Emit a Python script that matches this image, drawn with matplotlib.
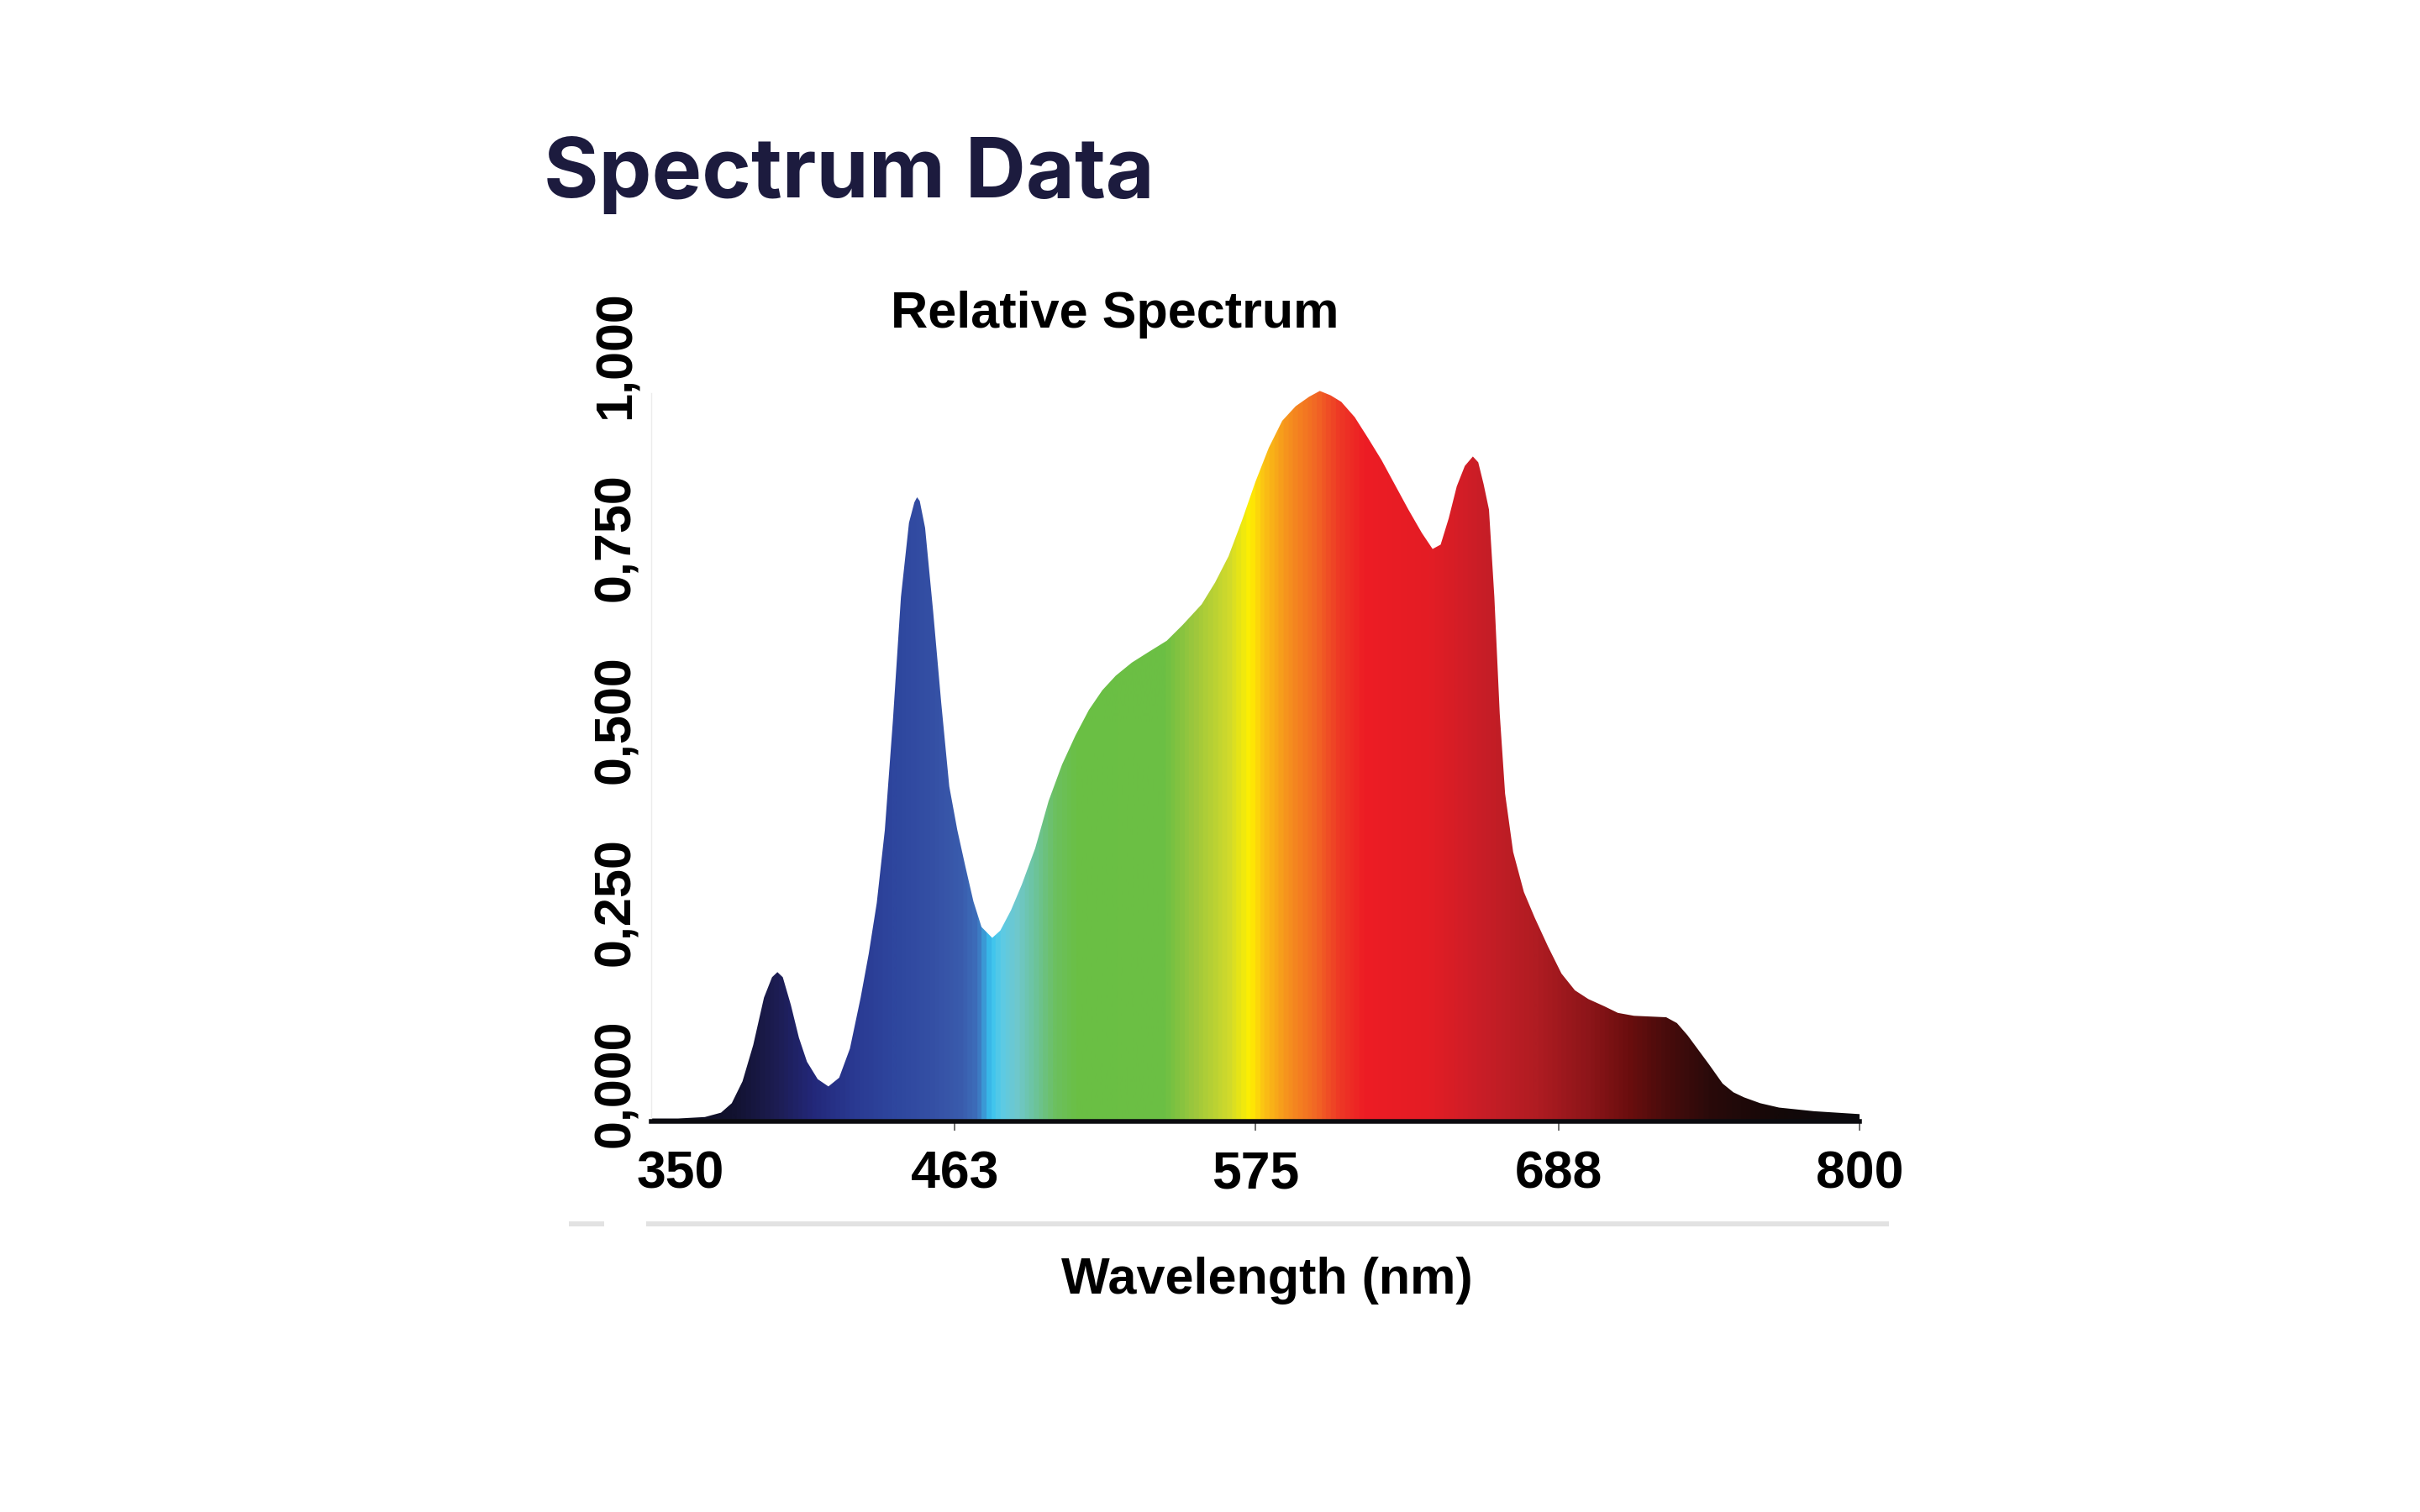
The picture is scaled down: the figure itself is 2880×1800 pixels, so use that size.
import numpy as np
import matplotlib
matplotlib.use("Agg")
import matplotlib.pyplot as plt
from matplotlib.colors import LinearSegmentedColormap
from matplotlib.lines import Line2D
from matplotlib.transforms import ScaledTranslation

# spectrum (nm, relative intensity)
wavelength_nm = [350, 360, 370, 376, 380, 384, 388, 392, 395, 397, 399, 402, 405,
                 408, 412, 416, 420, 424, 428, 431, 434, 437, 440, 443, 446, 448,
                 449, 450, 452, 455, 458, 461, 464, 467, 470, 473, 477, 480, 484,
                 488, 493, 498, 503, 508, 513, 518, 523, 529, 535, 542, 548, 555,
                 560, 565, 570, 575, 580, 585, 590, 595, 599, 603, 607, 612, 617,
                 622, 627, 632, 637, 641, 644, 647, 650, 653, 656, 658, 660, 662,
                 664, 666, 668, 671, 675, 679, 684, 689, 694, 699, 705, 710, 716,
                 722, 728, 732, 736, 740, 744, 749, 753, 757, 763, 770, 783, 800]
intensity = [0.004, 0.004, 0.006, 0.012, 0.025, 0.055, 0.105, 0.170, 0.198, 0.205,
             0.198, 0.160, 0.115, 0.082, 0.058, 0.048, 0.060, 0.100, 0.170, 0.230,
             0.300, 0.400, 0.550, 0.720, 0.822, 0.850, 0.857, 0.852, 0.815, 0.700,
             0.575, 0.460, 0.400, 0.350, 0.302, 0.267, 0.252, 0.262, 0.290, 0.325,
             0.375, 0.440, 0.490, 0.530, 0.565, 0.592, 0.612, 0.630, 0.644, 0.660,
             0.682, 0.710, 0.740, 0.776, 0.825, 0.878, 0.925, 0.962, 0.982, 0.995,
             1.003, 0.997, 0.988, 0.967, 0.938, 0.908, 0.874, 0.840, 0.808, 0.786,
             0.792, 0.828, 0.872, 0.900, 0.913, 0.905, 0.875, 0.840, 0.720, 0.560,
             0.450, 0.370, 0.315, 0.280, 0.240, 0.203, 0.180, 0.168, 0.158, 0.149,
             0.145, 0.144, 0.143, 0.135, 0.118, 0.098, 0.078, 0.052, 0.040, 0.033,
             0.025, 0.019, 0.014, 0.010]

x_ticks = [350, 463, 575, 688, 800]
y_ticks = [0.0, 0.25, 0.5, 0.75, 1.0]
y_tick_labels = ["0,000", "0,250", "0,500", "0,750", "1,000"]

# colour of the fill along the wavelength axis
spectrum_stops = [
    (350, "#0a0a14"), (380, "#121230"), (395, "#1c1c50"), (410, "#23287a"),
    (425, "#2a3a92"), (440, "#2e469e"), (455, "#3550a5"), (465, "#3a5cad"),
    (471, "#3d6fbb"), (476, "#38c3f0"), (480, "#5ccbe6"), (486, "#6fc8cc"),
    (492, "#6cc4a0"), (500, "#6cc060"), (508, "#6abf45"), (541, "#6cbf44"),
    (553, "#a0c83c"), (565, "#d0da2c"), (573, "#fff000"), (578, "#fbc314"),
    (587, "#f6921e"), (597, "#f26a24"), (606, "#ee3a26"), (616, "#ed1c24"),
    (640, "#e41d25"), (660, "#c81e27"), (680, "#b01c22"), (700, "#8c1519"),
    (715, "#6a0e0e"), (728, "#4a0c0c"), (745, "#2a0a0a"), (770, "#140808"),
    (800, "#0a0a0e"),
]

FONT = "Liberation Sans"

fig = plt.figure(figsize=(28.8, 18), dpi=100)
ax = fig.add_axes([775 / 2880, 465 / 1800, 1438 / 2880, 1.1 * 867 / 1800])

lo, hi = x_ticks[0], x_ticks[-1]
cmap = LinearSegmentedColormap.from_list(
    "spectrum", [((nm - lo) / (hi - lo), c) for nm, c in spectrum_stops])

poly = ax.fill_between(wavelength_nm, 0, intensity, facecolor="none", edgecolor="none")
grad = np.linspace(lo, hi, 1200)[None, :]
img = ax.imshow(grad, extent=[lo, hi, 0, 1.1], aspect="auto", cmap=cmap,
                vmin=lo, vmax=hi, origin="lower", interpolation="bilinear")
img.set_clip_path(poly.get_paths()[0], transform=ax.transData)

ax.set_xlim(lo, hi)
ax.set_ylim(0, 1.1)

for side in ["top", "right"]:
    ax.spines[side].set_visible(False)
ax.spines["bottom"].set_linewidth(4)
ax.spines["bottom"].set_color("#0b0b0f")
ax.spines["left"].set_color("#ececec")
ax.spines["left"].set_linewidth(1)
ax.spines["left"].set_bounds(0, 1.0)

ax.set_xticks(x_ticks)
ax.set_xticklabels([str(t) for t in x_ticks])
ax.set_yticks(y_ticks)
ax.set_yticklabels(y_tick_labels)
ax.tick_params(axis="x", length=8, width=1.2, color="#555555", pad=16,
               labelsize=45)
ax.tick_params(axis="y", length=0, pad=9, labelsize=44, labelrotation=90)
ax.xaxis.get_major_ticks()[0].tick1line.set_visible(False)

for lab in ax.get_xticklabels() + ax.get_yticklabels():
    lab.set_fontfamily(FONT)
    lab.set_fontweight("bold")
    lab.set_color("black")

# y labels sit a bit above their values in the original
shift = ScaledTranslation(0, 45 / 100, fig.dpi_scale_trans)
for lab in ax.get_yticklabels():
    lab.set_transform(lab.get_transform() + shift)
    lab.set_verticalalignment("center")

# first x label is nudged right, clear of the y labels
first = ax.get_xticklabels()[0]
first.set_transform(first.get_transform()
                    + ScaledTranslation(35 / 100, 0, fig.dpi_scale_trans))

fig.text(647 / 2880, 1 - 235 / 1800, "Spectrum Data", ha="left", va="baseline",
         fontsize=72, fontweight="bold", family="Inter", color="#1c1b3e")
fig.text(1327 / 2880, 1 - 390 / 1800, "Relative Spectrum", ha="center",
         va="baseline", fontsize=44, fontweight="bold", family=FONT)
fig.text(1508 / 2880, 1 - 1540 / 1800, "Wavelength (nm)", ha="center",
         va="baseline", fontsize=44, fontweight="bold", family=FONT)

# light grey rule under the axis
for x0, x1 in [(680, 716), (772, 2245)]:
    fig.add_artist(Line2D([x0 / 2880, x1 / 2880], [1 - 1457 / 1800] * 2,
                          transform=fig.transFigure, color="#e2e2e2", lw=4.3))

fig.savefig("out.png", dpi=100, facecolor="white")
